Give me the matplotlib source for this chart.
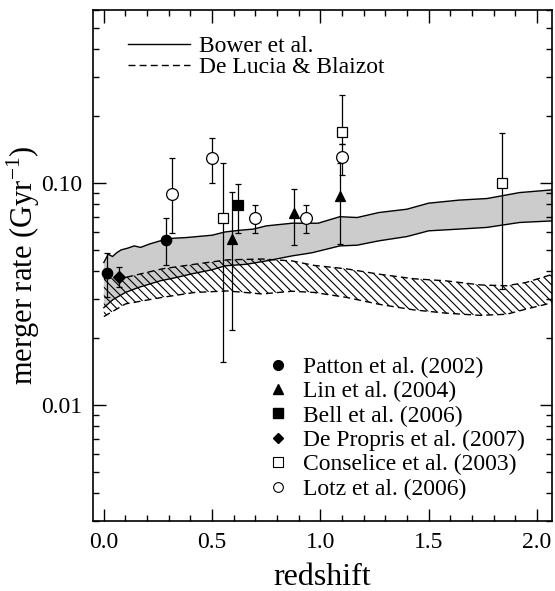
import matplotlib.pyplot as plt
from matplotlib.lines import Line2D
from matplotlib.ticker import LogLocator, FixedLocator, FixedFormatter, MultipleLocator, NullFormatter
import numpy as np

plt.rcParams["font.family"] = ["Liberation Serif", "DejaVu Serif"]
plt.rcParams["mathtext.fontset"] = "custom"
plt.rcParams["mathtext.rm"] = "Liberation Serif"
plt.rcParams["hatch.linewidth"] = 0.8

# Bower et al. band (grey)
bower_z_hi = [0.0, 0.02, 0.04, 0.06, 0.08, 0.11, 0.14, 0.17, 0.21, 0.26, 0.32, 0.38, 0.50, 0.56,
              0.63, 0.69, 0.75, 0.87, 0.99, 1.09, 1.17, 1.27, 1.40, 1.50, 1.64, 1.77, 1.92, 2.10]
bower_hi = [0.0438, 0.0477, 0.0466, 0.0485, 0.0499, 0.0508, 0.052, 0.0512, 0.053, 0.0548, 0.0563,
            0.0567, 0.0581, 0.0601, 0.0612, 0.0619, 0.064, 0.0658, 0.0658, 0.0704, 0.0698, 0.0735,
            0.0761, 0.081, 0.0836, 0.085, 0.0904, 0.0935]
bower_z_lo = [0.0, 0.04, 0.10, 0.16, 0.26, 0.32, 0.41, 0.50, 0.56, 0.66, 0.75, 0.87, 0.96, 1.09,
              1.17, 1.27, 1.40, 1.50, 1.64, 1.77, 1.92, 2.10]
bower_lo = [0.0274, 0.0297, 0.0321, 0.0338, 0.0362, 0.0372, 0.039, 0.0406, 0.0423, 0.043, 0.0445,
            0.0469, 0.0484, 0.052, 0.0524, 0.0548, 0.0573, 0.0608, 0.0619, 0.063, 0.0663, 0.0676]

# De Lucia & Blaizot band (hatched)
delucia_z = [0.0, 0.10, 0.27, 0.42, 0.57, 0.73, 0.87, 0.97, 1.12, 1.27, 1.43, 1.58, 1.74, 1.86,
             1.95, 2.10]
delucia_hi = [0.037, 0.0375, 0.041, 0.043, 0.045, 0.0454, 0.0445, 0.0425, 0.041, 0.0388, 0.037,
              0.0362, 0.0347, 0.0344, 0.0356, 0.0395]
delucia_lo = [0.025, 0.0285, 0.0305, 0.0321, 0.0326, 0.0316, 0.0325, 0.0321, 0.0305, 0.0284,
              0.0268, 0.0259, 0.0253, 0.0256, 0.027, 0.0293]

# observations: redshift, rate, lower and upper end of error bar
patton_z = [0.015, 0.286]
patton_r = [0.0394, 0.0553]
patton_lo = [0.0305, 0.0426]
patton_hi = [0.0482, 0.0693]

lin_z = [0.59, 0.877, 1.089]
lin_r = [0.0557, 0.073, 0.0874]
lin_lo = [0.0217, 0.0526, 0.0533]
lin_hi = [0.091, 0.0943, 0.123]

bell_z = [0.62]
bell_r = [0.0796]
bell_lo = [0.0597]
bell_hi = [0.099]

depropris_z = [0.07]
depropris_r = [0.0378]
depropris_lo = [0.0341]
depropris_hi = [0.042]

conselice_z = [0.551, 1.101, 1.84]
conselice_r = [0.0698, 0.170, 0.0997]
conselice_lo = [0.0156, 0.149, 0.0332]
conselice_hi = [0.123, 0.249, 0.167]

lotz_z = [0.317, 0.50, 0.70, 0.932, 1.10]
lotz_r = [0.0895, 0.130, 0.0698, 0.0698, 0.131]
lotz_lo = [0.0597, 0.100, 0.0597, 0.0597, 0.109]
lotz_hi = [0.130, 0.159, 0.0796, 0.0796, 0.149]

fig = plt.figure(figsize=(5.55, 5.91), dpi=100)
ax = fig.add_axes([0.1676, 0.1184, 0.8270, 0.8646])
ax.set_yscale("log")

# grey band, interpolate both edges on a common grid so fill works
zz = np.union1d(bower_z_hi, bower_z_lo)
b_hi = np.interp(zz, bower_z_hi, bower_hi)
b_lo = np.interp(zz, bower_z_lo, bower_lo)
ax.fill_between(zz, b_lo, b_hi, facecolor="#cccccc", edgecolor="none", zorder=1)
ax.plot(bower_z_hi, bower_hi, color="k", lw=1.0, zorder=3)
ax.plot(bower_z_lo, bower_lo, color="k", lw=1.0, zorder=3)

ax.fill_between(delucia_z, delucia_lo, delucia_hi, facecolor="none", edgecolor="k",
                hatch="\\\\\\\\", linewidth=0, zorder=2)
ax.plot(delucia_z, delucia_hi, color="k", lw=1.0, ls=(0, (5, 3)), zorder=3)
ax.plot(delucia_z, delucia_lo, color="k", lw=1.0, ls=(0, (5, 3)), zorder=3)


def obs(z, r, lo, hi, marker, fill, ms):
    r = np.array(r)
    yerr = [r - np.array(lo), np.array(hi) - r]
    ax.errorbar(z, r, yerr=yerr, fmt="none", ecolor="k", elinewidth=0.9, capsize=2.2,
                capthick=0.9, zorder=4)
    ax.plot(z, r, ls="none", marker=marker, ms=ms, mec="k", mew=0.9,
            mfc="k" if fill else "white", zorder=5)


obs(patton_z, patton_r, patton_lo, patton_hi, "o", True, 7.5)
obs(lin_z, lin_r, lin_lo, lin_hi, "^", True, 7.5)
obs(bell_z, bell_r, bell_lo, bell_hi, "s", True, 7)
obs(depropris_z, depropris_r, depropris_lo, depropris_hi, "D", True, 6)
obs(conselice_z, conselice_r, conselice_lo, conselice_hi, "s", False, 7.5)
obs(lotz_z, lotz_r, lotz_lo, lotz_hi, "o", False, 8.5)

ax.set_xlim(-0.05, 2.07)
ax.set_ylim(0.003, 0.6)

ax.xaxis.set_major_locator(MultipleLocator(0.5))
ax.xaxis.set_minor_locator(MultipleLocator(0.1))
ax.xaxis.set_major_formatter(plt.FuncFormatter(lambda v, p: "%.1f" % v))
ax.yaxis.set_major_locator(FixedLocator([0.01, 0.1]))
ax.yaxis.set_major_formatter(FixedFormatter(["0.01", "0.10"]))
ax.yaxis.set_minor_locator(LogLocator(base=10, subs=np.arange(2, 10)))
ax.yaxis.set_minor_formatter(NullFormatter())

ax.tick_params(which="both", direction="in", top=True, right=True, labelsize=17, width=1.0)
ax.tick_params(which="major", length=9, pad=8)
ax.tick_params(which="minor", length=4.5)
for s in ax.spines.values():
    s.set_linewidth(1.2)

ax.set_xlabel("redshift", fontsize=23, labelpad=7)
ax.set_ylabel("merger rate (Gyr$^{\\mathregular{-1}}$)", fontsize=22, labelpad=-1)

model_handles = [Line2D([], [], color="k", lw=1.0),
                 Line2D([], [], color="k", lw=1.0, ls=(0, (5, 3)))]
leg1 = ax.legend(model_handles, ["Bower et al.", "De Lucia & Blaizot"], loc="upper left",
                 bbox_to_anchor=(0.056, 0.969), frameon=False, fontsize=17, handlelength=2.6,
                 handletextpad=0.42, labelspacing=0.0, borderaxespad=0)
ax.add_artist(leg1)

obs_handles = [Line2D([], [], ls="none", marker="o", ms=7, mfc="k", mec="k"),
               Line2D([], [], ls="none", marker="^", ms=7, mfc="k", mec="k"),
               Line2D([], [], ls="none", marker="s", ms=7, mfc="k", mec="k"),
               Line2D([], [], ls="none", marker="D", ms=5, mfc="k", mec="k"),
               Line2D([], [], ls="none", marker="s", ms=7, mfc="white", mec="k", mew=0.8),
               Line2D([], [], ls="none", marker="o", ms=7, mfc="white", mec="k", mew=0.8)]
obs_labels = ["Patton et al. (2002)", "Lin et al. (2004)", "Bell et al. (2006)",
              "De Propris et al. (2007)", "Conselice et al. (2003)", "Lotz et al. (2006)"]
ax.legend(obs_handles, obs_labels, loc="lower left", bbox_to_anchor=(0.362, 0.023),
          frameon=False, fontsize=17, handlelength=0.8, handletextpad=0.66,
          labelspacing=0.12, borderaxespad=0)

fig.savefig("out.png", dpi=100)
